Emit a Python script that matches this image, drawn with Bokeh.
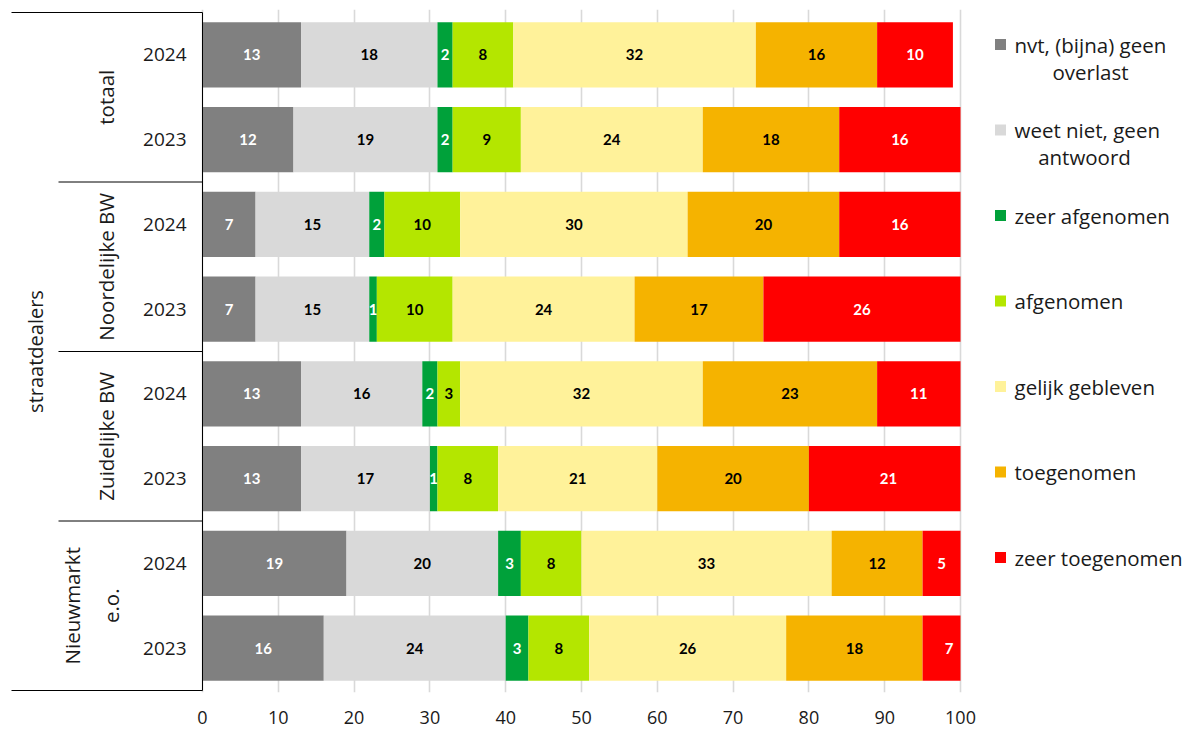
import numpy as np
from bokeh.plotting import figure
from bokeh.models import FixedTicker, Range1d
from bokeh.core.properties import value
from bokeh.embed import file_html
from bokeh.resources import INLINE

# ---------------- data ----------------
outer_label = "straatdealers"
groups = ["totaal", "Noordelijke BW", "Zuidelijke BW", "Nieuwmarkt\ne.o."]
years = ["2024", "2023"]

series = ["nvt, (bijna) geen overlast", "weet niet, geen antwoord", "zeer afgenomen",
          "afgenomen", "gelijk gebleven", "toegenomen", "zeer toegenomen"]
legend_lines = [["nvt, (bijna) geen", "overlast"], ["weet niet, geen", "antwoord"],
                ["zeer afgenomen"], ["afgenomen"], ["gelijk gebleven"],
                ["toegenomen"], ["zeer toegenomen"]]

# rows top to bottom: totaal 2024, 2023, Noordelijke 2024, 2023, Zuidelijke 2024, 2023, Nieuwmarkt 2024, 2023
nvt = [13, 12, 7, 7, 13, 13, 19, 16]
weet_niet = [18, 19, 15, 15, 16, 17, 20, 24]
zeer_afgenomen = [2, 2, 2, 1, 2, 1, 3, 3]
afgenomen = [8, 9, 10, 10, 3, 8, 8, 8]
gelijk = [32, 24, 30, 24, 32, 21, 33, 26]
toegenomen = [16, 18, 20, 17, 23, 20, 12, 18]
zeer_toegenomen = [10, 16, 16, 26, 11, 21, 5, 7]

x_ticks = [0, 10, 20, 30, 40, 50, 60, 70, 80, 90, 100]
x_max = 100

colors = ["#808080", "#d9d9d9", "#00a13a", "#b4e600", "#fff29a", "#f5b300", "#ff0000"]
label_colors = ["white", "black", "white", "black", "black", "black", "white"]

values = [nvt, weet_niet, zeer_afgenomen, afgenomen, gelijk, toegenomen, zeer_toegenomen]

# ---------------- layout helpers ----------------
W, H = 1195, 732
ORIGIN_PX = 202.0      # page px of x = 0
PX_PER_UNIT = 7.58
ROW_PX = 84.75
TOP_PX = 12.0


def px2x(px):
    return (px - ORIGIN_PX) / PX_PER_UNIT


def py2y(py):
    return 8 - (py - TOP_PX) / ROW_PX


n_rows = len(nvt)
x_start = px2x(10)
x_end = px2x(W)
y_start = -2 / ROW_PX
y_end = n_rows + 3 / ROW_PX

p = figure(width=W, height=H, output_backend="svg", toolbar_location=None,
           x_range=Range1d(x_start, x_end), y_range=Range1d(y_start, y_end),
           y_axis_location=None, min_border_left=10, min_border_right=0,
           min_border_top=9, min_border_bottom=40)
p.outline_line_color = None
p.background_fill_color = "white"
p.border_fill_color = "white"

# axis and grid
p.xaxis.ticker = FixedTicker(ticks=x_ticks)
p.xaxis.axis_line_color = None
p.xaxis.major_tick_line_color = None
p.xaxis.minor_tick_line_color = None
p.xaxis.major_tick_in = 0
p.xaxis.major_tick_out = 0
p.xaxis.major_label_standoff = 18
p.xaxis.major_label_text_font = "Open Sans"
p.xaxis.major_label_text_font_size = "18px"
p.xaxis.major_label_text_color = "#1a1a1a"
p.xgrid.ticker = FixedTicker(ticks=x_ticks)
p.xgrid.grid_line_color = "#d9d9d9"
p.xgrid.grid_line_width = 1.6
p.ygrid.grid_line_color = None

y_centers = np.array([n_rows - i - 0.5 for i in range(n_rows)])

# stacked bars
cum = np.zeros(n_rows)
for k, vals in enumerate(values):
    v = np.array(vals, dtype=float)
    left = cum.copy()
    right = cum + v
    p.hbar(y=y_centers, left=np.minimum(left, x_max), right=np.minimum(right, x_max),
           height=0.77, fill_color=colors[k], line_color=None)
    p.text(x=(left + right) / 2, y=y_centers, text=[str(int(a)) for a in v],
           text_align="center", text_baseline="middle", text_color=label_colors[k],
           text_font=value("Lato"), text_font_style="bold", text_font_size="15px")
    cum = right

# category axis: line, years, groups, outer label
p.segment(x0=[0], y0=[0], x1=[0], y1=[n_rows], line_color="black", line_width=1)
p.segment(x0=[px2x(11), px2x(11)], y0=[0, n_rows], x1=[0, 0], y1=[0, n_rows],
          line_color="black", line_width=1)
sep_y = [n_rows - 2 * (g + 1) for g in range(len(groups) - 1)]
p.segment(x0=[px2x(58)] * len(sep_y), y0=sep_y, x1=[0] * len(sep_y), y1=sep_y,
          line_color="black", line_width=1)

year_labels = [years[i % 2] for i in range(n_rows)]
p.text(x=np.zeros(n_rows), y=y_centers, text=year_labels, x_offset=-16,
       text_align="right", text_baseline="middle", text_color="#1a1a1a",
       text_font=value("Open Sans"), text_font_size="19px")

g_centers = [n_rows - 2 * g - 1 for g in range(len(groups))]
g_x = [px2x(105 - 14 * (lbl.count("\n"))) for lbl in groups]
p.text(x=g_x, y=g_centers, text=groups, angle=np.pi / 2,
       text_align="center", text_baseline="middle", text_color="#1a1a1a",
       text_font=value("Open Sans"), text_font_size="20.5px", text_line_height=1.4)

p.text(x=[px2x(35)], y=[n_rows / 2], text=[outer_label], angle=np.pi / 2,
       text_align="center", text_baseline="middle", text_color="#1a1a1a",
       text_font=value("Open Sans"), text_font_size="20px")

# legend
leg_first_py = [44 + 85.5 * k for k in range(len(series))]
sq_x = px2x(1000)
txt_x = px2x(1014)
p.scatter(x=[sq_x] * len(series), y=[py2y(v) for v in leg_first_py], marker="square",
          size=11, fill_color=colors, line_color=None)
p.text(x=[txt_x] * len(series), y=[py2y(v) for v in leg_first_py],
       text=[l[0] for l in legend_lines], text_align="left", text_baseline="middle",
       text_color="#1a1a1a", text_font=value("Open Sans"), text_font_size="20.5px")
second = [(k, l[1]) for k, l in enumerate(legend_lines) if len(l) > 1]
sec_center_px = [1090, 1084]
p.text(x=[px2x(c) for c in sec_center_px], y=[py2y(leg_first_py[k] + 27) for k, _ in second],
       text=[t for _, t in second], text_align="center", text_baseline="middle",
       text_color="#1a1a1a", text_font=value("Open Sans"), text_font_size="20.5px")

open("out.html", "w").write(file_html(p, INLINE))
